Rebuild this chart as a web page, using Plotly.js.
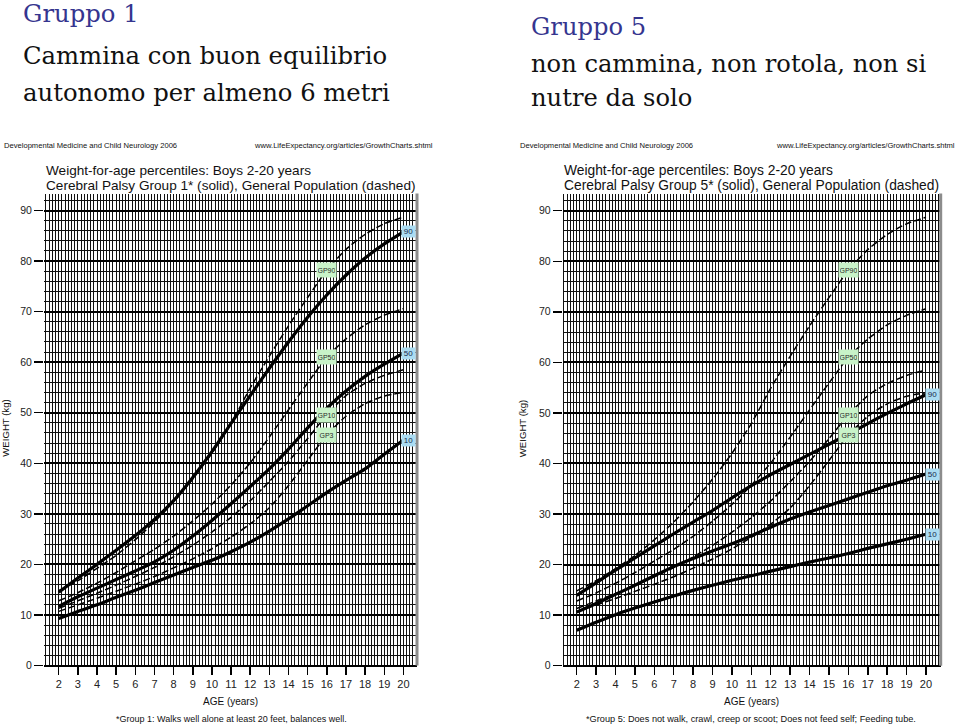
<!DOCTYPE html>
<html>
<head>
<meta charset="utf-8">
<script src="https://cdn.plot.ly/plotly-3.0.1.min.js"></script>
<style>
  html, body { margin: 0; padding: 0; background: #fff; }
  #chart { width: 960px; height: 727px; }
</style>
</head>
<body>
<div id="chart"></div>
<script>
// ---------------- data ----------------
const ages = [2, 3, 4, 5, 6, 7, 8, 9, 10, 11, 12, 13, 14, 15, 16, 17, 18, 19, 20];

// General population percentiles (dashed)
const gp3  = [10.7, 12.0, 13.3, 14.7, 16.1, 17.6, 19.3, 21.1, 23.1, 25.4, 28.0, 31.2, 35.6, 40.6, 45.6, 49.3, 51.8, 53.3, 54.0];
const gp10 = [11.3, 12.8, 14.3, 15.9, 17.6, 19.4, 21.5, 23.8, 26.4, 29.3, 32.6, 36.4, 40.4, 44.9, 49.6, 53.4, 55.8, 57.4, 58.5];
const gp50 = [12.8, 14.4, 16.3, 18.4, 20.7, 23.0, 25.6, 28.6, 31.9, 35.7, 40.1, 45.2, 50.6, 55.9, 61.0, 64.6, 67.4, 69.3, 70.6];
const gp90 = [14.8, 16.8, 19.2, 21.8, 24.9, 28.4, 32.4, 36.9, 42.0, 47.9, 54.9, 61.2, 67.2, 72.8, 78.2, 82.3, 85.3, 87.4, 88.7];

// Cerebral Palsy Group 1 (solid)
const g1p10 = [9.3, 10.7, 12.0, 13.5, 14.9, 16.4, 17.9, 19.4, 20.8, 22.5, 24.4, 26.6, 29.0, 31.6, 34.2, 36.6, 38.9, 41.8, 44.6];
const g1p50 = [11.7, 13.6, 15.3, 17.0, 18.7, 20.5, 22.8, 25.6, 28.7, 32.0, 35.4, 38.9, 42.8, 47.0, 50.9, 54.3, 57.2, 59.6, 61.8];
const g1p90 = [14.5, 17.3, 20.0, 22.8, 25.7, 28.9, 32.6, 37.2, 42.3, 47.9, 53.4, 58.8, 64.0, 68.9, 73.3, 77.2, 80.6, 83.4, 85.8];

// Cerebral Palsy Group 5 (solid)
const g5p10 = [7.0, 8.6, 10.1, 11.4, 12.6, 13.8, 14.9, 15.9, 16.9, 17.8, 18.7, 19.6, 20.5, 21.3, 22.2, 23.2, 24.1, 25.0, 26.0];
const g5p50 = [10.6, 12.3, 14.1, 15.9, 17.8, 19.6, 21.2, 22.7, 24.1, 25.7, 27.4, 29.0, 30.4, 31.7, 33.0, 34.3, 35.6, 36.7, 37.9];
const g5p90 = [13.9, 16.4, 18.9, 21.3, 23.7, 26.1, 28.4, 30.7, 33.2, 35.6, 37.8, 39.8, 41.8, 43.8, 45.8, 47.9, 49.9, 51.8, 53.6];

const gpNames = ['GP90', 'GP50', 'GP10', 'GP3'];
const cpNames = ['90', '50', '10'];

// ---------------- helpers ----------------
const W = 960, H = 727;
const px = x => x / W;
const py = y => 1 - y / H;
const SANS = 'Liberation Sans, Arial, sans-serif';
const SERIF = 'DejaVu Serif, serif';

function dashed(y, xa, ya) {
  return { x: ages, y: y, xaxis: xa, yaxis: ya, mode: 'lines', hoverinfo: 'skip', showlegend: false,
    line: { color: '#000', width: 1.5, dash: '7px,3px', shape: 'spline', smoothing: 0.6 } };
}
function solid(y, xa, ya) {
  return { x: ages, y: y, xaxis: xa, yaxis: ya, mode: 'lines', hoverinfo: 'skip', showlegend: false,
    line: { color: '#000', width: 3.2, shape: 'spline', smoothing: 0.6 } };
}

const gpSeries = [gp90, gp50, gp10, gp3];
const traces = [];
['x', 'x2'].forEach((xa, i) => {
  const ya = i === 0 ? 'y' : 'y2';
  gpSeries.forEach(s => traces.push(dashed(s, xa, ya)));
});
[g1p90, g1p50, g1p10].forEach(s => traces.push(solid(s, 'x', 'y')));
[g5p90, g5p50, g5p10].forEach(s => traces.push(solid(s, 'x2', 'y2')));

function xAxis(domain, range) {
  return {
    domain: domain, range: range, tickmode: 'linear', tick0: 2, dtick: 1,
    ticks: 'outside', ticklen: 8, tickwidth: 1.5, tickcolor: '#000',
    showgrid: true, gridcolor: '#111', gridwidth: 1,
    minor: { tick0: 2, dtick: 1 / 6, showgrid: true, gridcolor: '#111', gridwidth: 1, ticks: '' },
    zeroline: false, showline: false, fixedrange: true,
    tickfont: { family: SANS, size: 11, color: '#222' }
  };
}
function yAxis(domain, range, anchor) {
  return {
    domain: domain, range: range, anchor: anchor, tickmode: 'linear', tick0: 0, dtick: 10,
    ticks: 'outside', ticklen: 9, tickwidth: 1.5, tickcolor: '#000',
    showgrid: true, gridcolor: '#000', gridwidth: 2,
    minor: { tick0: 0, dtick: 2, showgrid: true, gridcolor: '#111', gridwidth: 1, ticks: '' },
    zeroline: true, zerolinecolor: '#000', zerolinewidth: 2, showline: false, fixedrange: true,
    tickfont: { family: SANS, size: 10.5, color: '#222' }
  };
}

const ann = [];
function txt(text, x, y, size, opts) {
  ann.push(Object.assign({ text: text, x: px(x), y: py(y), xref: 'paper', yref: 'paper',
    xanchor: 'left', yanchor: 'middle', showarrow: false,
    font: { family: SANS, size: size, color: '#111' } }, opts || {}));
}

// Slide titles
txt('Gruppo 1', 21, 14, 24.3, { font: { family: SERIF, size: 24.3, color: '#35358f' } });
txt('Cammina con buon equilibrio', 21, 55.8, 24.3, { font: { family: SERIF, size: 24.3, color: '#111' } });
txt('autonomo per almeno 6 metri', 21, 92.5, 24.3, { font: { family: SERIF, size: 24.3, color: '#111' } });
txt('Gruppo 5', 529, 26.7, 24.2, { font: { family: SERIF, size: 24.2, color: '#35358f' } });
txt('non cammina, non rotola, non si', 529, 64.4, 24.2, { font: { family: SERIF, size: 24.2, color: '#111' } });
txt('nutre da solo', 529, 97.7, 24.2, { font: { family: SERIF, size: 24.2, color: '#111' } });

// Chart headers
txt('Developmental Medicine and Child Neurology 2006', 2, 145.5, 7.6);
txt('www.LifeExpectancy.org/articles/GrowthCharts.shtml', 435, 145.5, 7.6, { xanchor: 'right' });
txt('Developmental Medicine and Child Neurology 2006', 518, 145.5, 7.6);
txt('www.LifeExpectancy.org/articles/GrowthCharts.shtml', 957, 145.5, 7.6, { xanchor: 'right' });

txt('Weight-for-age percentiles: Boys 2-20 years', 44, 170, 13.6);
txt('Cerebral Palsy Group 1* (solid), General Population (dashed)', 44, 185.6, 13.6);
txt('Weight-for-age percentiles: Boys 2-20 years', 561.5, 170, 13.8);
txt('Cerebral Palsy Group 5* (solid), General Population (dashed)', 561.5, 185.8, 13.8);

// Axis titles and footnotes
txt('WEIGHT (kg)', 6, 428.7, 9.6, { xanchor: 'center', textangle: -90 });
txt('WEIGHT (kg)', 522.5, 428.7, 9.6, { xanchor: 'center', textangle: -90 });
txt('AGE (years)', 230.5, 701.7, 10, { xanchor: 'center' });
txt('AGE (years)', 751.5, 701.7, 10, { xanchor: 'center' });
txt('*Group 1: Walks well alone at least 20 feet, balances well.', 231, 719.3, 9, { xanchor: 'center' });
txt('*Group 5: Does not walk, crawl, creep or scoot; Does not feed self; Feeding tube.', 751, 719.3, 9.2, { xanchor: 'center' });

// Curve labels
const i16 = ages.indexOf(16);
[['x', 'y'], ['x2', 'y2']].forEach(([xa, ya]) => {
  gpSeries.forEach((s, k) => {
    ann.push({ text: gpNames[k], x: 16, y: s[i16], xref: xa, yref: ya, showarrow: false,
      xanchor: 'center', yanchor: 'middle', width: 17, height: 12, borderpad: 1,
      bgcolor: '#c8f3c8', font: { family: SANS, size: 7, color: '#2a2a2a' } });
  });
});
[[ [g1p90, g1p50, g1p10], 'x', 'y', 20.28 ], [ [g5p90, g5p50, g5p10], 'x2', 'y2', 20.36 ]].forEach(([ser, xa, ya, lx]) => {
  ser.forEach((s, k) => {
    ann.push({ text: cpNames[k], x: lx, y: s[s.length - 1], xref: xa, yref: ya, showarrow: false,
      xanchor: 'center', yanchor: 'middle', width: 11, height: 9, borderpad: 1,
      bgcolor: '#aadcf2', font: { family: SANS, size: 8, color: '#1a2a4a' } });
  });
});

const layout = {
  width: W, height: H, margin: { l: 0, r: 0, t: 0, b: 0 },
  paper_bgcolor: '#fff', plot_bgcolor: '#fff', showlegend: false,
  xaxis: xAxis([px(44), px(417)], [1.232, 20.71]),
  yaxis: yAxis([py(665.5), py(193.5)], [0, 93.37], 'x'),
  xaxis2: Object.assign(xAxis([px(562.7), px(940.7)], [1.278, 20.76]), { anchor: 'y2' }),
  yaxis2: yAxis([py(665.7), py(193.5)], [0, 93.4], 'x2'),
  annotations: ann,
  shapes: [
    { type: 'line', xref: 'x domain', yref: 'y domain', x0: 1, x1: 1, y0: 0, y1: 1, line: { color: '#8c8c8c', width: 3 } },
    { type: 'line', xref: 'x2 domain', yref: 'y2 domain', x0: 1, x1: 1, y0: 0, y1: 1, line: { color: '#8c8c8c', width: 3 } }
  ]
};

Plotly.newPlot('chart', traces, layout, { staticPlot: true, displayModeBar: false });
</script>
</body>
</html>
